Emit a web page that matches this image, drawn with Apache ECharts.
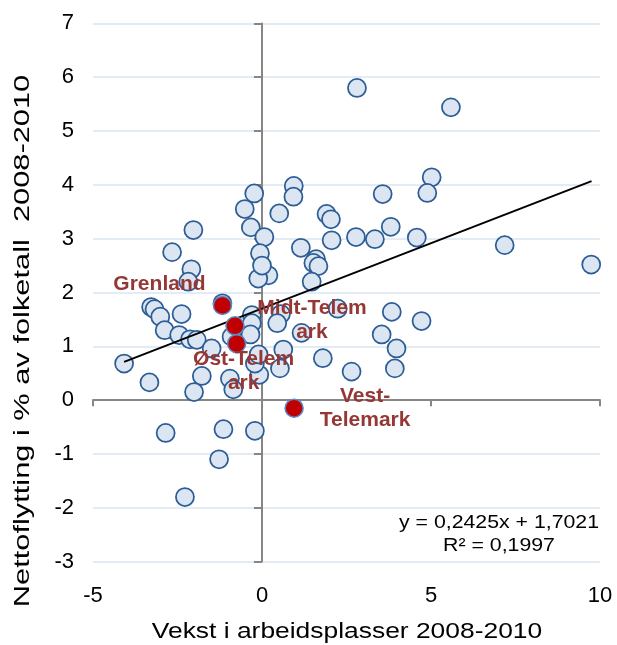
<!DOCTYPE html>
<html><head><meta charset="utf-8">
<script src="https://cdn.jsdelivr.net/npm/echarts@6/dist/echarts.min.js"></script>
<style>html,body{margin:0;padding:0;background:#fff}#c{width:617px;height:645px}</style>
</head><body><div id="c"></div>
<script>
// ---- data ----
const xTicks = [-5, 0, 5, 10];
const yTicks = [-3, -2, -1, 0, 1, 2, 3, 4, 5, 6, 7];
const kommuneX = [2.81, 5.59, 5.02, 4.89, 0.94, 0.93, -0.23, -0.51, -0.33, -2.03, -2.66, -2.09, 0.07, 0.51, 1.91, 2.04, 2.06, 2.78, 1.15, 1.60,
  1.52, 1.67, 1.47, -0.06, 0.19, -0.11, 0.00, 3.57, 3.81, 3.34, 4.58, 7.18, 9.74, 3.84, 4.72, 3.54, 3.98, 3.93, 1.80, 2.65,
  1.17, 0.56, 0.45, 0.63, 0.53, -0.08, 2.24, -0.21, -1.17, -3.28, -3.18, -3.01, -2.88, -2.38, -2.45, -2.13, -1.93, -1.49, -4.08, -3.33,
  -1.78, -2.01, -0.95, -0.85, -0.30, -0.30, -0.34, -0.90, -0.21, -0.10, -2.85, -1.14, -1.27, -2.28, -2.18];
const kommuneY = [5.80, 5.44, 4.14, 3.85, 3.98, 3.78, 3.84, 3.55, 3.21, 3.16, 2.75, 2.43, 3.03, 3.47, 3.46, 3.36, 2.97, 3.03, 2.83, 2.62,
  2.55, 2.49, 2.20, 2.73, 2.32, 2.26, 2.50, 3.83, 3.22, 2.99, 3.02, 2.88, 2.52, 1.64, 1.47, 1.22, 0.96, 0.59, 0.78, 0.53,
  1.25, 1.60, 1.43, 0.94, 0.59, 0.47, 1.70, -0.57, 1.80, 1.73, 1.69, 1.55, 1.30, 1.60, 1.21, 1.13, 1.12, 0.96, 0.68, 0.33,
  0.45, 0.15, 0.40, 0.20, 1.58, 1.43, 1.22, 1.18, 0.68, 0.85, -0.61, -0.54, -1.10, -1.80, 2.20];
const regionNames = ['Grenland', 'Midt-Telem\nark', 'Øst-Telem\nark', 'Vest-\nTelemark'];
const regionX = [-1.17, -0.80, -0.75, 0.95];
const regionY = [1.76, 1.38, 1.05, -0.15];
const trendX = [-4.08, 9.75];
const trendY = [0.71, 4.07];
const equationLines = ['y = 0,2425x + 1,7021', 'R² = 0,1997'];
const xTitle = 'Vekst i arbeidsplasser 2008-2010';
const yTitle = 'Nettoflytting i % av folketall  2008-2010';

// ---- presentation ----
const FONT = "'Liberation Sans', Arial, sans-serif";
const labelOffsets = [[-63, -21], [77, -6], [7, 28], [71, 0]];
const xMin = xTicks[0], xMax = xTicks[xTicks.length - 1], xStep = xTicks[1] - xTicks[0];
const yMin = yTicks[0], yMax = yTicks[yTicks.length - 1], yStep = yTicks[1] - yTicks[0];
const axisGray = '#868686';

const chart = echarts.init(document.getElementById('c'), null, {renderer: 'canvas'});
const option = {
  animation: false,
  backgroundColor: '#fff',
  grid: {left: 93, right: 17, top: 23.4, bottom: 83.4, containLabel: false, outerBoundsMode: 'none'},
  xAxis: [
    {type: 'value', min: xMin, max: xMax, interval: xStep, position: 'bottom',
     axisLine: {show: false, onZero: false}, axisTick: {show: false}, splitLine: {show: false},
     axisLabel: {fontSize: 22, color: '#000', fontFamily: FONT, margin: 23}},
    {type: 'value', min: xMin, max: xMax, interval: xStep, position: 'top',
     axisLine: {show: true, onZero: true, onZeroAxisIndex: 0, lineStyle: {color: axisGray, width: 2}},
     axisTick: {show: true, inside: true, length: 6, lineStyle: {color: axisGray, width: 2}},
     axisLabel: {show: false}, splitLine: {show: false}}
  ],
  yAxis: [
    {type: 'value', min: yMin, max: yMax, interval: yStep, position: 'left',
     axisLine: {show: false, onZero: false}, axisTick: {show: false},
     splitLine: {show: true, lineStyle: {color: '#dae4f1', width: 1.5}},
     axisLabel: {fontSize: 22, color: '#000', fontFamily: FONT, margin: 19}},
    {type: 'value', min: yMin, max: yMax, interval: yStep, position: 'right',
     axisLine: {show: true, onZero: true, onZeroAxisIndex: 0, lineStyle: {color: axisGray, width: 2}},
     axisTick: {show: true, inside: true, length: 8, lineStyle: {color: axisGray, width: 2}},
     axisLabel: {show: false}, splitLine: {show: false}}
  ],
  series: [
    {type: 'scatter', xAxisIndex: 0, yAxisIndex: 0, z: 2,
     data: kommuneX.map((x, i) => [x, kommuneY[i]]),
     symbol: 'circle', symbolSize: 18,
     itemStyle: {color: '#dce6f2', borderColor: '#2c5d96', borderWidth: 1.75, opacity: 1},
     emphasis: {disabled: true}},
    {type: 'line', xAxisIndex: 0, yAxisIndex: 0, z: 3,
     data: trendX.map((x, i) => [x, trendY[i]]),
     symbol: 'none', lineStyle: {color: '#000', width: 2}, emphasis: {disabled: true}},
    {type: 'scatter', xAxisIndex: 0, yAxisIndex: 0, z: 4,
     data: regionX.map((x, i) => ({name: regionNames[i], value: [x, regionY[i]], label: {offset: labelOffsets[i]}})),
     symbol: 'circle', symbolSize: 18,
     itemStyle: {color: '#c00000', borderColor: '#5b8ac4', borderWidth: 1.5, opacity: 1},
     label: {show: true, position: 'inside', formatter: '{b}', fontSize: 21, fontWeight: 'bold',
             color: '#953735', fontFamily: FONT, lineHeight: 24, align: 'center'},
     emphasis: {disabled: true}}
  ],
  graphic: [
    {type: 'text', x: 347, y: 632, scaleX: 1.2, z: 10,
     style: {text: xTitle, align: 'center', verticalAlign: 'middle', fontSize: 22, fontFamily: FONT, fill: '#000'}},
    {type: 'text', x: 23, y: 341, rotation: Math.PI / 2, scaleX: 1.4, z: 10,
     style: {text: yTitle, align: 'center', verticalAlign: 'middle', fontSize: 22, fontFamily: FONT, fill: '#000'}},
    {type: 'text', x: 499, y: 534.5, scaleX: 1.12, z: 10,
     style: {text: equationLines.join('\n'), align: 'center', verticalAlign: 'middle', fontSize: 19, lineHeight: 23, fontFamily: FONT, fill: '#000'}}
  ]
};
chart.setOption(option);
</script>
</body></html>
